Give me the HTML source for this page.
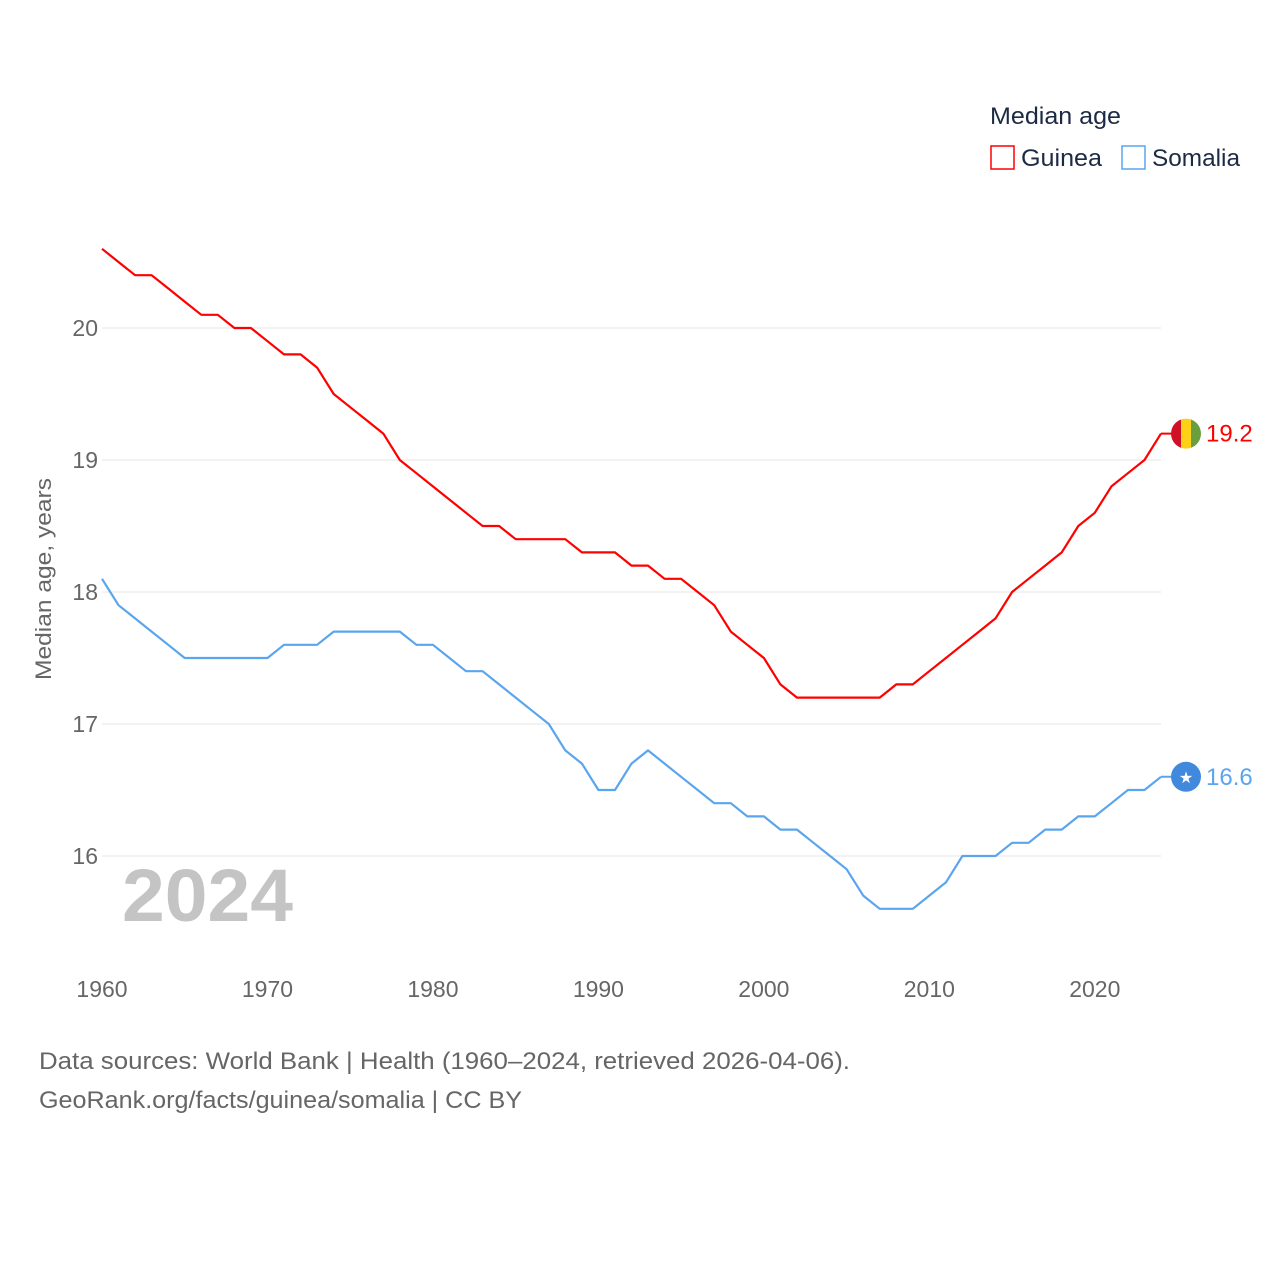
<!DOCTYPE html>
<html><head><meta charset="utf-8"><style>
body{margin:0;background:#fff;font-family:"Liberation Sans",sans-serif;}
svg text{font-family:"Liberation Sans",sans-serif;}
</style></head><body>
<svg id="chart" width="1280" height="1280" xmlns="http://www.w3.org/2000/svg">
<rect width="1280" height="1280" fill="#fff"/>
<g id="grid"></g>
<text x="122" y="921" font-size="74" font-weight="bold" fill="#c4c4c4" textLength="171" lengthAdjust="spacingAndGlyphs">2024</text>
<g id="series"></g>
<text transform="translate(51,579) rotate(-90)" text-anchor="middle" font-size="22" fill="#666" textLength="202" lengthAdjust="spacingAndGlyphs">Median age, years</text>
<g>
<text x="990" y="124" font-size="24" fill="#1d2a44" textLength="131" lengthAdjust="spacingAndGlyphs">Median age</text>
<g><rect x="991" y="146" width="23" height="23" fill="none" stroke="#f00" stroke-width="1.5"/><text x="1021" y="166" font-size="24" fill="#1d2a44" textLength="81" lengthAdjust="spacingAndGlyphs">Guinea</text></g>
<g><rect x="1122" y="146" width="23" height="23" fill="none" stroke="#5aa5ee" stroke-width="1.5"/><text x="1152" y="166" font-size="24" fill="#1d2a44" textLength="88" lengthAdjust="spacingAndGlyphs">Somalia</text></g>
</g>
<text x="39" y="1069" font-size="24" fill="#666" textLength="811" lengthAdjust="spacingAndGlyphs">Data sources: World Bank | Health (1960–2024, retrieved 2026-04-06).</text>
<text x="39" y="1108" font-size="24" fill="#666" textLength="483" lengthAdjust="spacingAndGlyphs">GeoRank.org/facts/guinea/somalia | CC BY</text>
</svg>
<script>
const years=[];for(let y=1960;y<=2024;y++)years.push(y);
const guinea=[20.6,20.5,20.4,20.4,20.3,20.2,20.1,20.1,20.0,20.0,19.9,19.8,19.8,19.7,19.5,19.4,19.3,19.2,19.0,18.9,18.8,18.7,18.6,18.5,18.5,18.4,18.4,18.4,18.4,18.3,18.3,18.3,18.2,18.2,18.1,18.1,18.0,17.9,17.7,17.6,17.5,17.3,17.2,17.2,17.2,17.2,17.2,17.2,17.3,17.3,17.4,17.5,17.6,17.7,17.8,18.0,18.1,18.2,18.3,18.5,18.6,18.8,18.9,19.0,19.2];
const somalia=[18.1,17.9,17.8,17.7,17.6,17.5,17.5,17.5,17.5,17.5,17.5,17.6,17.6,17.6,17.7,17.7,17.7,17.7,17.7,17.6,17.6,17.5,17.4,17.4,17.3,17.2,17.1,17.0,16.8,16.7,16.5,16.5,16.7,16.8,16.7,16.6,16.5,16.4,16.4,16.3,16.3,16.2,16.2,16.1,16.0,15.9,15.7,15.6,15.6,15.6,15.7,15.8,16.0,16.0,16.0,16.1,16.1,16.2,16.2,16.3,16.3,16.4,16.5,16.5,16.6];
const yTicks=[16,17,18,19,20];
const xTicks=[1960,1970,1980,1990,2000,2010,2020];
const X=y=>102+(y-1960)*(1161-102)/64;
const Y=v=>856-(v-16)*132;
const NS="http://www.w3.org/2000/svg";
const grid=document.getElementById('grid'),ser=document.getElementById('series');
function mk(tag,attrs,parent,txt){const e=document.createElementNS(NS,tag);for(const k in attrs)e.setAttribute(k,attrs[k]);if(txt!==undefined)e.textContent=txt;parent.appendChild(e);return e;}
yTicks.forEach(t=>{
 const l=mk('line',{x1:102,x2:1161,y1:Y(t),y2:Y(t),stroke:'#e6e6e6','stroke-width':1},grid);
 
 
 const tx=mk('text',{x:98,y:Y(t)+8,'text-anchor':'end','font-size':23,fill:'#666'},grid,String(t));
 
 
});
xTicks.forEach(t=>{
 const tx=mk('text',{x:X(t),y:997,'text-anchor':'middle','font-size':23,fill:'#666'},grid,String(t));
 
 
});
function line(vals,color,name){
 const d=vals.map((v,i)=>(i?'L':'M')+X(years[i]).toFixed(1)+','+Y(v).toFixed(1)).join(' ');
 const p=mk('path',{d:d,fill:'none',stroke:color,'stroke-width':2.2,'stroke-linejoin':'round'},ser);
 
 
 const last=vals[vals.length-1];
 const lx=X(years[years.length-1]);
 mk('line',{x1:lx,x2:lx+25,y1:Y(last),y2:Y(last),stroke:color,'stroke-width':2},ser);
 const lab=mk('text',{x:1206,y:Y(last)+8,'font-size':24,fill:color},ser,last.toFixed(1));
 
 
 return Y(last);
}
const gy=line(guinea,'#f00','guinea');
const sy=line(somalia,'#5aa5ee','somalia');
const gf=mk('g',{},ser);


mk('clipPath',{id:'gc'},gf);
mk('circle',{cx:1186,cy:gy,r:15},document.getElementById('gc'));
const gg=mk('g',{'clip-path':'url(#gc)'},gf);
mk('rect',{x:1171,y:gy-15,width:10,height:30,fill:'#ce1126'},gg);
mk('rect',{x:1181,y:gy-15,width:10,height:30,fill:'#fcd116'},gg);
mk('rect',{x:1191,y:gy-15,width:10,height:30,fill:'#6a9f3f'},gg);
const sf=mk('g',{},ser);


mk('circle',{cx:1186,cy:sy,r:15,fill:'#4189dd'},sf);
mk('text',{x:1186,y:sy+6,'text-anchor':'middle','font-size':16,fill:'#fff'},sf,'★');
</script>
</body></html>
